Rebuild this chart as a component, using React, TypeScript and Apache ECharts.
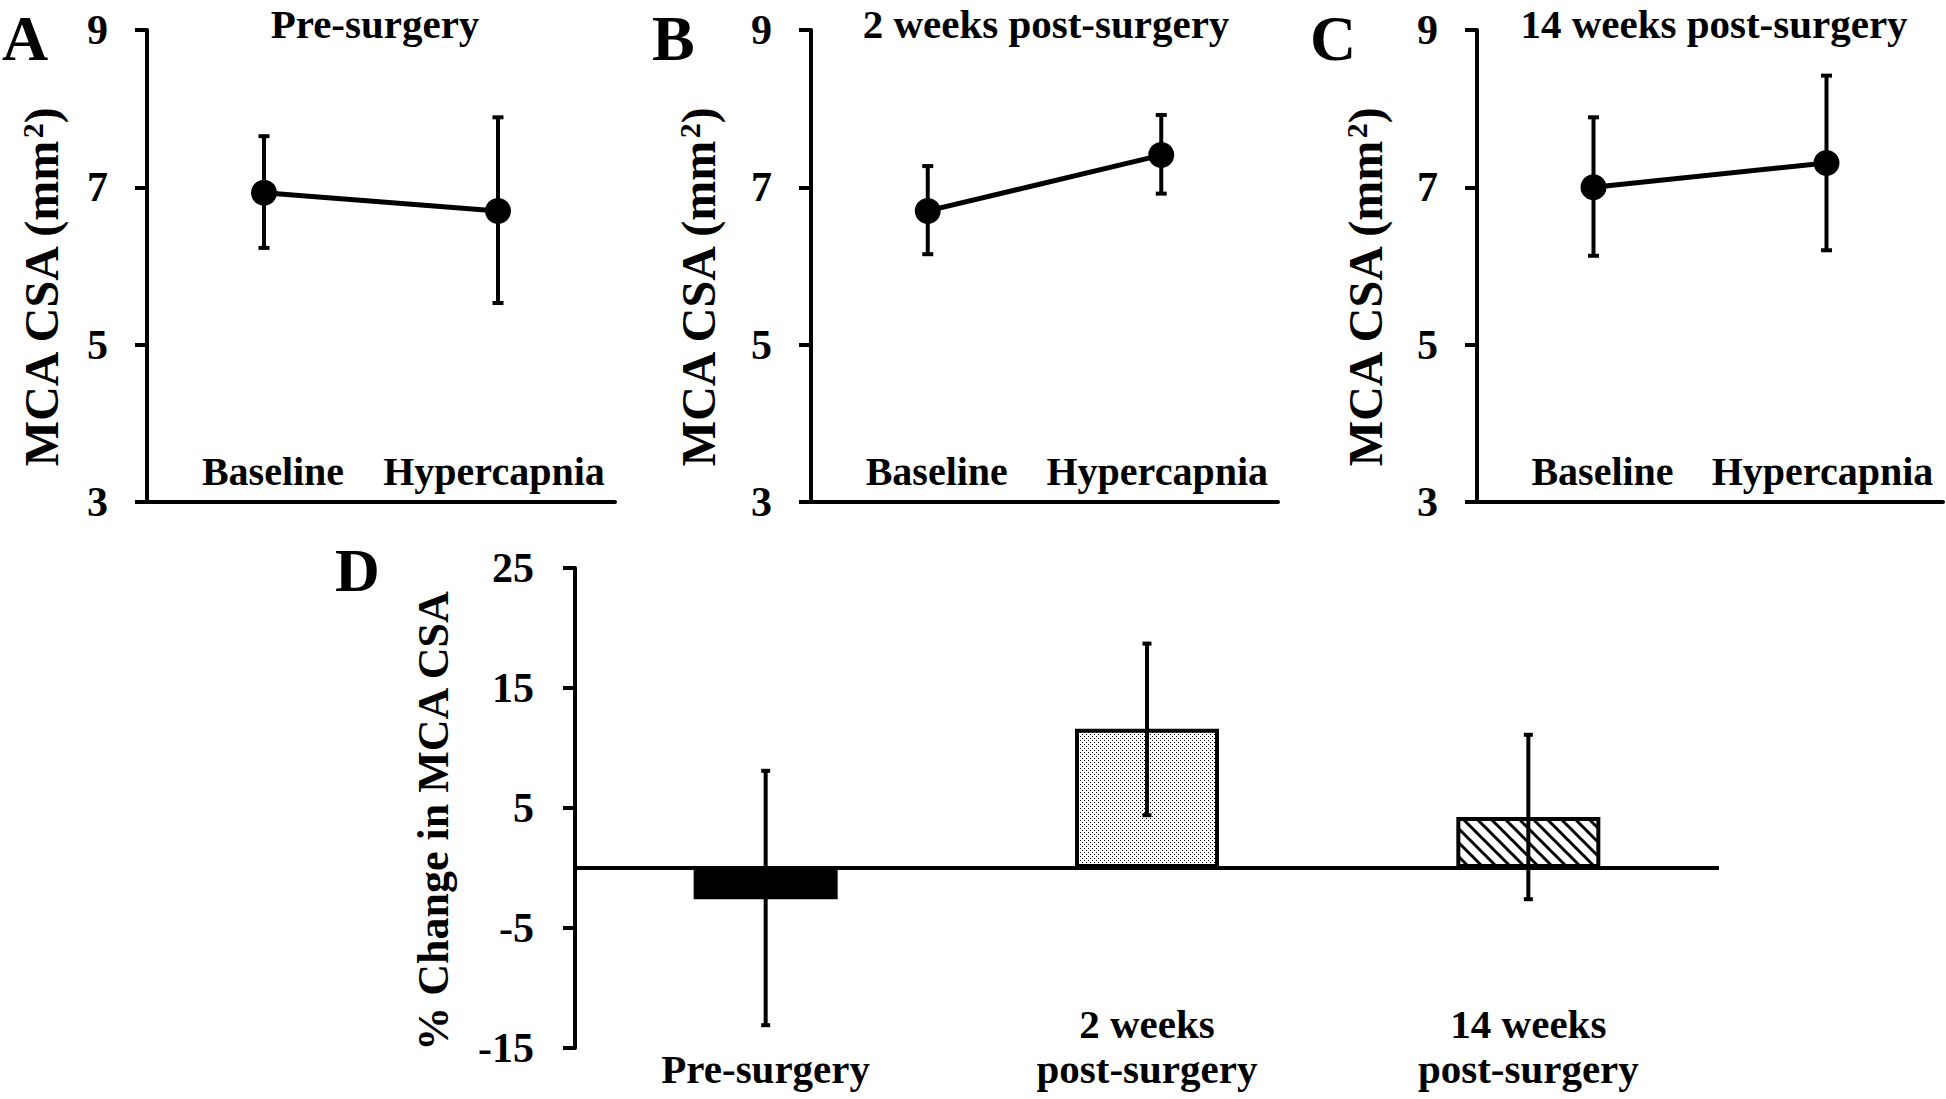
import React, { useEffect, useRef } from "react";
import * as echarts from "echarts";

// ---------- data ----------
const panelLetters = ["A", "B", "C"];
const panelTitles = ["Pre-surgery", "2 weeks post-surgery", "14 weeks post-surgery"];
const conditions = ["Baseline", "Hypercapnia"];

const csaPre = [6.93, 6.7];
const csaPreLow = [6.23, 5.53];
const csaPreHigh = [7.65, 7.89];

const csa2wk = [6.7, 7.41];
const csa2wkLow = [6.15, 6.92];
const csa2wkHigh = [7.27, 7.92];

const csa14wk = [7.0, 7.31];
const csa14wkLow = [6.13, 6.2];
const csa14wkHigh = [7.89, 8.42];

const csaAxisMin = 3;
const csaAxisMax = 9;
const csaAxisStep = 2;

const changeCategories = ["\nPre-surgery", "2 weeks\npost-surgery", "14 weeks\npost-surgery"];
const changeValues = [-2.6, 11.6, 4.25];
const changeLow = [-13.1, 4.4, -2.6];
const changeHigh = [8.1, 18.7, 11.1];

const changeAxisMin = -15;
const changeAxisMax = 25;
const changeAxisStep = 10;

// ---------- layout ----------
const FONT = '"Liberation Serif", "Times New Roman", serif';
const panelGrids = [
  { left: 147, top: 30, width: 468, height: 472, nameGap: 82 },
  { left: 811, top: 30, width: 467, height: 472, nameGap: 89 },
  { left: 1477, top: 30, width: 466, height: 472, nameGap: 88 },
];
const titleCenters = [375, 1046, 1714];
const letterLefts = [2, 652, 1310];
const gridD = { left: 575, top: 568, width: 1144, height: 480 };

function errorBarRenderer(halfCap: number, width: number) {
  return (params: any, api: any) => {
    const lo = api.coord([api.value(0), api.value(1)]);
    const hi = api.coord([api.value(0), api.value(2)]);
    const st = { stroke: "#000", lineWidth: width };
    return {
      type: "group",
      children: [
        { type: "line", shape: { x1: hi[0], y1: hi[1], x2: lo[0], y2: lo[1] }, style: st },
        { type: "line", shape: { x1: hi[0] - halfCap, y1: hi[1], x2: hi[0] + halfCap, y2: hi[1] }, style: st },
        { type: "line", shape: { x1: lo[0] - halfCap, y1: lo[1], x2: lo[0] + halfCap, y2: lo[1] }, style: st },
      ],
    };
  };
}

function makeDots() {
  const c = document.createElement("canvas");
  c.width = 4;
  c.height = 4;
  const ctx = c.getContext("2d")!;
  ctx.fillStyle = "#fff";
  ctx.fillRect(0, 0, 4, 4);
  ctx.fillStyle = "#000";
  ctx.fillRect(0, 0, 1, 1);
  ctx.fillRect(2, 2, 1, 1);
  return c;
}

function makeHatch() {
  const s = 14;
  const c = document.createElement("canvas");
  c.width = s;
  c.height = s;
  const ctx = c.getContext("2d")!;
  ctx.fillStyle = "#fff";
  ctx.fillRect(0, 0, s, s);
  ctx.strokeStyle = "#000";
  ctx.lineWidth = 3;
  for (const k of [-s, 0, s]) {
    ctx.beginPath();
    ctx.moveTo(-2, -2 + k);
    ctx.lineTo(s + 2, s + 2 + k);
    ctx.stroke();
  }
  return c;
}

export default function App() {
  const ref = useRef<HTMLDivElement>(null);

  useEffect(() => {
    if (!ref.current) return;
    const chart = echarts.init(ref.current, null, { renderer: "svg" });

    const panelData = [
      [csaPre, csaPreLow, csaPreHigh],
      [csa2wk, csa2wkLow, csa2wkHigh],
      [csa14wk, csa14wkLow, csa14wkHigh],
    ];

    const labelFont = { color: "#000", fontFamily: FONT, fontWeight: "bold", fontSize: 40, lineHeight: 40 };

    const grids: any[] = panelGrids.map((g) => ({ left: g.left, top: g.top, width: g.width, height: g.height }));
    grids.push({ ...gridD });

    const xAxes: any[] = panelGrids.map((g, i) => ({
      type: "category",
      gridIndex: i,
      data: conditions,
      axisLine: { lineStyle: { color: "#000", width: 4 } },
      axisTick: { show: false },
      axisLabel: {
        interval: 0,
        margin: -51,
        ...labelFont,
        formatter: (v: string, idx: number) => (idx === 0 ? `{b|${v}}` : `{h|${v}}`),
        rich: {
          b: { ...labelFont, padding: [0, 0, 0, 18] },
          h: { ...labelFont, padding: [0, 8, 0, 0] },
        },
      },
    }));
    xAxes.push({
      type: "category",
      gridIndex: 3,
      data: changeCategories,
      axisLine: { show: false, onZero: false },
      axisTick: { show: false },
      axisLabel: {
        interval: 0,
        margin: -47,
        color: "#000",
        fontFamily: FONT,
        fontWeight: "bold",
        fontSize: 41,
        lineHeight: 45,
      },
    });

    const nameFont = { color: "#000", fontFamily: FONT, fontWeight: "bold", fontSize: 48 };

    const yAxes: any[] = panelGrids.map((g, i) => ({
      type: "value",
      gridIndex: i,
      min: csaAxisMin,
      max: csaAxisMax,
      interval: csaAxisStep,
      name: "MCA CSA (mm{sup|2})",
      nameLocation: "middle",
      nameGap: g.nameGap,
      nameTextStyle: {
        ...nameFont,
        padding: [0, 44, 0, 0],
        rich: {
          sup: { ...nameFont, fontSize: 30, verticalAlign: "top", lineHeight: 48 },
        },
      },
      splitLine: { show: false },
      axisLine: { show: true, lineStyle: { color: "#000", width: 4 } },
      axisTick: { show: true, length: 12, lineStyle: { color: "#000", width: 4 } },
      axisLabel: {
        margin: 39,
        color: "#000",
        fontFamily: FONT,
        fontWeight: "bold",
        fontSize: 42,
      },
    }));
    yAxes.push({
      type: "value",
      gridIndex: 3,
      min: changeAxisMin,
      max: changeAxisMax,
      interval: changeAxisStep,
      name: "% Change in MCA CSA",
      nameLocation: "middle",
      nameGap: 120,
      nameTextStyle: {
        color: "#000",
        fontFamily: FONT,
        fontWeight: "bold",
        fontSize: 44,
        padding: [0, 26, 0, 0],
      },
      splitLine: { show: false },
      axisLine: { show: true, lineStyle: { color: "#000", width: 4 } },
      axisTick: { show: true, length: 12, lineStyle: { color: "#000", width: 4 } },
      axisLabel: {
        margin: 41,
        color: "#000",
        fontFamily: FONT,
        fontWeight: "bold",
        fontSize: 42,
      },
    });

    const series: any[] = [];
    panelData.forEach(([vals, lows, highs], i) => {
      series.push({
        type: "custom",
        xAxisIndex: i,
        yAxisIndex: i,
        renderItem: errorBarRenderer(5.5, 4),
        encode: { x: 0, y: [1, 2] },
        data: vals.map((_, j) => [j, lows[j], highs[j]]),
        z: 2,
      });
      series.push({
        type: "line",
        xAxisIndex: i,
        yAxisIndex: i,
        data: vals,
        symbol: "circle",
        symbolSize: 26,
        itemStyle: { color: "#000" },
        lineStyle: { color: "#000", width: 5 },
        z: 3,
      });
    });

    const dots = makeDots();
    const hatch = makeHatch();
    const fills: any[] = [
      "#000",
      { image: dots, repeat: "repeat" },
      { image: hatch, repeat: "repeat" },
    ];

    series.push({
      type: "bar",
      xAxisIndex: 3,
      yAxisIndex: 3,
      barWidth: 144,
      data: changeValues.map((v, j) => ({
        value: v,
        itemStyle: { color: fills[j], borderColor: "#000", borderWidth: 4 },
      })),
      markLine: {
        silent: true,
        symbol: ["none", "none"],
        label: { show: false },
        lineStyle: { color: "#000", width: 4, type: "solid" },
        data: [{ yAxis: 0 }],
      },
      z: 2,
    });
    series.push({
      type: "custom",
      xAxisIndex: 3,
      yAxisIndex: 3,
      renderItem: errorBarRenderer(4.5, 4),
      encode: { x: 0, y: [1, 2] },
      data: changeValues.map((_, j) => [j, changeLow[j], changeHigh[j]]),
      z: 4,
    });

    const graphics: any[] = [];
    panelTitles.forEach((t, i) => {
      graphics.push({
        type: "text",
        x: titleCenters[i],
        y: 24,
        style: {
          text: t,
          fill: "#000",
          font: `bold 41px ${FONT}`,
          align: "center",
          verticalAlign: "middle",
        },
      });
    });
    panelLetters.forEach((l, i) => {
      graphics.push({
        type: "text",
        x: letterLefts[i],
        y: 38,
        style: {
          text: l,
          fill: "#000",
          font: `bold 64px ${FONT}`,
          align: "left",
          verticalAlign: "middle",
        },
      });
    });
    graphics.push({
      type: "text",
      x: 335,
      y: 570,
      style: {
        text: "D",
        fill: "#000",
        font: `bold 62px ${FONT}`,
        align: "left",
        verticalAlign: "middle",
      },
    });

    chart.setOption({
      animation: false,
      backgroundColor: "#fff",
      grid: grids,
      xAxis: xAxes,
      yAxis: yAxes,
      series,
      graphic: graphics,
    });

    return () => {
      chart.dispose();
    };
  }, []);

  return (
    <div
      ref={ref}
      style={{ position: "fixed", left: 0, top: 0, width: 1946, height: 1099, background: "#fff" }}
    />
  );
}
